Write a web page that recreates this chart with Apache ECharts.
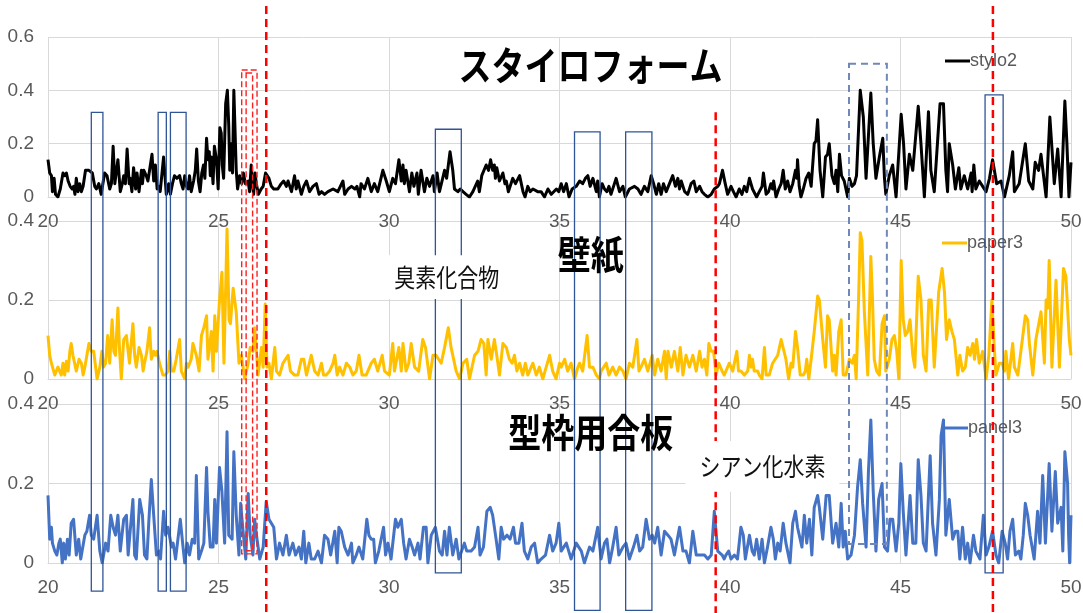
<!DOCTYPE html>
<html>
<head>
<meta charset="utf-8">
<title>stylo2 / paper3 / panel3</title>
<script src="https://cdn.jsdelivr.net/npm/echarts@6/dist/echarts.min.js"></script>
<style>
  html, body { margin: 0; padding: 0; background: #ffffff; }
  #main { width: 1083px; height: 613px; }
</style>
</head>
<body>
<div id="main"></div>
<script>
// ---- series values: [time (min), intensity] ----
const stylo2 = [
[20.00,0.14],[20.05,0.09],[20.10,0.08],[20.13,0.02],[20.18,0.07],[20.22,0.01],[20.29,0.00],[20.36,0.03],[20.44,0.09],[20.49,0.08],[20.54,0.09],[20.59,0.06],[20.65,0.04],[20.71,0.03],[20.75,0.04],[20.79,0.01],[20.83,0.07],[20.88,0.02],[20.93,0.05],[20.98,0.02],[21.03,0.04],[21.10,0.10],[21.20,0.10],[21.30,0.09],[21.37,0.04],[21.42,0.03],[21.49,0.05],[21.56,0.01],[21.66,0.09],[21.73,0.08],[21.81,0.03],[21.86,0.05],[21.91,0.19],[21.96,0.05],[22.05,0.14],[22.12,0.02],[22.18,0.05],[22.22,0.08],[22.27,0.05],[22.32,0.18],[22.38,0.05],[22.41,0.07],[22.46,0.02],[22.51,0.11],[22.57,0.03],[22.61,0.09],[22.67,0.02],[22.74,0.10],[22.77,0.05],[22.81,0.10],[22.88,0.08],[22.93,0.06],[23.05,0.16],[23.10,0.06],[23.15,0.12],[23.20,0.03],[23.25,0.04],[23.29,0.02],[23.39,0.15],[23.47,0.01],[23.54,0.05],[23.59,0.01],[23.65,0.05],[23.71,0.08],[23.78,0.07],[23.86,0.08],[23.91,0.05],[23.96,0.03],[24.01,0.08],[24.06,0.04],[24.11,0.03],[24.15,0.08],[24.20,0.02],[24.27,0.06],[24.32,0.10],[24.36,0.18],[24.41,0.06],[24.46,0.02],[24.51,0.09],[24.56,0.12],[24.60,0.07],[24.65,0.22],[24.69,0.14],[24.73,0.17],[24.76,0.08],[24.79,0.15],[24.84,0.05],[24.88,0.19],[24.94,0.14],[24.99,0.03],[25.04,0.26],[25.08,0.24],[25.11,0.12],[25.15,0.07],[25.21,0.35],[25.26,0.40],[25.30,0.27],[25.33,0.10],[25.37,0.20],[25.41,0.09],[25.45,0.40],[25.52,0.10],[25.56,0.03],[25.62,0.08],[25.68,0.05],[25.73,0.09],[25.79,0.05],[25.87,0.06],[25.91,0.02],[25.96,0.12],[25.99,0.05],[26.03,0.01],[26.07,0.09],[26.11,0.05],[26.17,0.01],[26.25,0.03],[26.31,0.04],[26.38,0.09],[26.48,0.07],[26.55,0.04],[26.62,0.03],[26.74,0.03],[26.84,0.05],[26.91,0.06],[26.99,0.04],[27.04,0.06],[27.14,0.02],[27.23,0.08],[27.28,0.03],[27.33,0.06],[27.43,0.01],[27.50,0.04],[27.58,0.06],[27.67,0.02],[27.77,0.04],[27.87,0.05],[27.95,0.01],[28.02,0.02],[28.11,0.01],[28.21,0.02],[28.36,0.03],[28.50,0.02],[28.65,0.06],[28.70,0.01],[28.80,0.03],[28.90,0.04],[29.00,0.03],[29.06,0.04],[29.14,0.00],
[29.18,0.05],[29.28,0.03],[29.38,0.07],[29.48,0.02],[29.57,0.05],[29.67,0.02],[29.82,0.10],[29.92,0.06],[30.01,0.02],[30.11,0.07],[30.19,0.05],[30.29,0.14],[30.36,0.06],[30.41,0.12],[30.45,0.05],[30.50,0.10],[30.60,0.02],[30.67,0.09],[30.73,0.04],[30.82,0.09],[30.86,0.01],[30.94,0.10],[31.04,0.02],[31.11,0.07],[31.19,0.04],[31.29,0.08],[31.33,0.02],[31.41,0.09],[31.48,0.02],[31.63,0.10],[31.69,0.07],[31.79,0.17],[31.87,0.10],[31.92,0.03],[32.02,0.02],[32.09,0.03],[32.17,0.02],[32.26,0.01],[32.36,0.00],[32.46,0.02],[32.60,0.06],[32.65,0.02],[32.72,0.08],[32.85,0.12],[32.92,0.10],[32.98,0.14],[33.04,0.10],[33.09,0.12],[33.12,0.07],[33.16,0.11],[33.24,0.06],[33.34,0.09],[33.40,0.05],[33.44,0.06],[33.50,0.02],[33.63,0.07],[33.71,0.05],[33.83,0.08],[33.93,0.02],[33.99,0.00],[34.07,0.04],[34.14,0.02],[34.22,0.03],[34.36,0.02],[34.46,0.02],[34.56,0.00],[34.66,0.03],[34.76,0.01],[34.91,0.03],[34.98,0.02],[35.05,0.05],[35.12,0.02],[35.20,0.05],[35.28,0.00],[35.37,0.03],[35.49,0.04],[35.59,0.06],[35.68,0.05],[35.76,0.07],[35.83,0.08],[35.90,0.04],[35.98,0.07],[36.08,0.02],[36.12,0.06],[36.17,0.00],[36.25,0.05],[36.32,0.03],[36.39,0.02],[36.45,0.04],[36.51,0.01],[36.66,0.07],[36.76,0.02],[36.86,0.04],[36.93,0.00],[37.05,0.03],[37.20,0.04],[37.30,0.03],[37.39,0.01],[37.49,0.04],[37.59,0.02],[37.69,0.08],[37.76,0.05],[37.84,0.01],[37.91,0.05],[37.98,0.01],[38.05,0.05],[38.13,0.02],[38.32,0.08],[38.40,0.04],[38.47,0.07],[38.52,0.03],[38.57,0.06],[38.67,0.02],[38.76,0.01],[38.86,0.05],[38.94,0.06],[39.01,0.02],[39.11,0.04],[39.18,0.02],[39.25,0.01],[39.35,0.00],[39.45,0.01],[39.54,0.03],[39.64,0.04],
[39.69,0.05],[39.78,0.10],[39.86,0.05],[39.93,0.01],[40.03,0.04],[40.10,0.02],[40.18,0.00],[40.27,0.03],[40.35,0.01],[40.42,0.04],[40.49,0.02],[40.57,0.07],[40.66,0.03],[40.78,0.00],[40.86,0.02],[40.94,0.04],[40.98,0.09],[41.06,0.01],[41.13,0.02],[41.20,0.05],[41.25,0.03],[41.28,0.06],[41.35,0.00],[41.43,0.03],[41.50,0.05],[41.56,0.10],[41.62,0.03],[41.69,0.06],[41.76,0.02],[41.84,0.05],[41.92,0.10],[41.96,0.07],[41.98,0.14],[42.03,0.04],[42.08,0.00],[42.15,0.03],[42.23,0.07],[42.31,0.09],[42.38,0.04],[42.47,0.20],[42.52,0.21],[42.57,0.29],[42.64,0.10],[42.72,0.00],[42.80,0.15],[42.86,0.16],[42.91,0.20],[42.99,0.08],[43.06,0.05],[43.11,0.10],[43.16,0.02],[43.21,0.16],[43.27,0.08],[43.35,0.06],[43.45,0.00],[43.50,0.07],[43.58,0.04],[43.65,0.05],[43.71,0.08],[43.82,0.40],[43.91,0.30],[43.99,0.07],[44.13,0.39],[44.20,0.20],[44.28,0.07],[44.38,0.15],[44.48,0.22],[44.53,0.07],[44.57,0.01],[44.67,0.08],[44.77,0.12],[44.82,0.06],[44.87,0.00],[45.02,0.31],[45.09,0.20],[45.16,0.03],[45.26,0.16],[45.36,0.10],[45.52,0.34],[45.60,0.20],[45.70,0.00],[45.82,0.32],[45.89,0.10],[45.99,0.02],[46.16,0.35],[46.26,0.35],[46.33,0.10],[46.38,0.02],[46.43,0.20],[46.53,0.12],[46.61,0.03],[46.71,0.11],[46.77,0.03],[46.87,0.08],[46.97,0.03],[47.07,0.09],[47.10,0.02],[47.15,0.12],[47.21,0.03],[47.31,0.06],[47.41,0.04],[47.51,0.02],[47.61,0.07],[47.70,0.14],[47.82,0.05],[47.95,0.06],[48.05,0.00],[48.19,0.08],[48.29,0.17],[48.34,0.02],[48.48,0.05],[48.66,0.20],[48.76,0.06],[48.88,0.03],[48.95,0.13],[49.05,0.10],[49.12,0.16],[49.27,0.00],[49.38,0.30],[49.51,0.05],[49.61,0.18],[49.71,0.00],[49.82,0.36],[49.88,0.20],[49.94,0.00],[50.00,0.13]
];

const paper3 = [
[20.00,0.11],[20.05,0.06],[20.10,0.04],[20.15,0.045],[20.20,0.01],[20.29,0.03],[20.34,0.025],[20.39,0.01],[20.44,0.04],[20.49,0.01],[20.54,0.045],[20.59,0.02],[20.64,0.07],[20.68,0.09],[20.73,0.06],[20.83,0.02],[20.91,0.05],[20.98,0.04],[21.03,0.01],[21.08,0.03],[21.14,0.06],[21.20,0.09],[21.27,0.07],[21.34,0.07],[21.44,0.00],[21.52,0.03],[21.58,0.07],[21.63,0.03],[21.69,0.04],[21.75,0.11],[21.81,0.04],[21.88,0.15],[21.93,0.07],[21.98,0.06],[22.05,0.18],[22.10,0.07],[22.15,0.00],[22.22,0.10],[22.30,0.11],[22.35,0.07],[22.39,0.04],[22.49,0.14],[22.54,0.06],[22.59,0.03],[22.67,0.08],[22.74,0.06],[22.79,0.02],[22.83,0.04],[22.90,0.07],[22.98,0.13],[23.03,0.05],[23.10,0.07],[23.15,0.06],[23.20,0.07],[23.27,0.04],[23.37,0.01],[23.44,0.01],[23.52,0.02],[23.57,0.07],[23.62,0.02],[23.69,0.02],[23.76,0.05],[23.86,0.10],[23.91,0.02],[23.96,0.02],[24.01,0.00],[24.06,0.04],[24.11,0.03],[24.20,0.05],[24.25,0.09],[24.35,0.06],[24.43,0.02],[24.50,0.11],[24.57,0.13],[24.65,0.16],[24.69,0.05],[24.79,0.12],[24.84,0.02],[24.89,0.16],[24.94,0.07],[25.03,0.20],[25.10,0.27],[25.16,0.04],[25.25,0.38],[25.31,0.15],[25.35,0.14],[25.43,0.23],[25.52,0.17],[25.60,0.04],[25.67,0.06],[25.77,0.00],[25.87,0.04],[25.93,0.08],[26.01,0.07],[26.06,0.13],[26.11,0.07],[26.16,0.01],[26.26,0.08],[26.31,0.03],[26.37,0.19],[26.42,0.03],[26.48,0.04],[26.55,0.00],[26.65,0.08],[26.70,0.02],[26.79,0.01],[26.89,0.04],[27.04,0.06],[27.11,0.02],[27.23,0.01],[27.33,0.01],[27.43,0.05],[27.50,0.05],[27.58,0.01],[27.72,0.06],[27.82,0.02],[27.92,0.01],[28.02,0.04],[28.08,0.01],[28.16,0.01],[28.26,0.02],[28.36,0.04],[28.41,0.06],[28.48,0.01],[28.55,0.03],[28.65,0.01],[28.75,0.04],[28.85,0.03],[28.94,0.01],[29.04,0.02],[29.12,0.06],
[29.21,0.01],[29.33,0.01],[29.48,0.04],[29.57,0.05],[29.67,0.02],[29.80,0.06],[29.87,0.02],[30.01,0.01],[30.11,0.09],[30.16,0.02],[30.29,0.08],[30.36,0.02],[30.41,0.09],[30.50,0.02],[30.58,0.04],[30.65,0.09],[30.75,0.03],[30.87,0.02],[30.99,0.10],[31.07,0.08],[31.19,0.00],[31.29,0.06],[31.38,0.06],[31.53,0.04],[31.63,0.08],[31.74,0.13],[31.82,0.08],[31.97,0.02],[32.07,0.00],[32.17,0.04],[32.28,0.05],[32.36,0.00],[32.51,0.06],[32.61,0.07],[32.70,0.10],[32.78,0.09],[32.85,0.01],[32.90,0.10],[33.00,0.05],[33.09,0.10],[33.16,0.06],[33.24,0.01],[33.34,0.09],[33.44,0.08],[33.53,0.05],[33.61,0.04],[33.68,0.06],[33.75,0.02],[33.83,0.04],[33.92,0.01],[34.00,0.04],[34.07,0.01],[34.22,0.04],[34.32,0.01],[34.41,0.03],[34.51,0.00],[34.61,0.03],[34.71,0.06],[34.80,0.02],[34.90,0.00],[35.00,0.04],[35.05,0.03],[35.15,0.05],[35.24,0.02],[35.34,0.04],[35.44,0.00],[35.54,0.03],[35.59,0.04],[35.68,0.02],[35.81,0.11],[35.88,0.03],[35.98,0.03],[36.08,0.01],[36.17,0.00],[36.22,0.02],[36.37,0.04],[36.45,0.01],[36.56,0.03],[36.66,0.01],[36.76,0.03],[36.86,0.02],[36.95,0.00],[37.05,0.04],[37.15,0.03],[37.27,0.10],[37.33,0.02],[37.39,0.03],[37.49,0.05],[37.59,0.02],[37.72,0.06],[37.79,0.01],[37.88,0.05],[37.98,0.02],[38.08,0.07],[38.13,0.00],[38.18,0.07],[38.28,0.03],[38.37,0.07],[38.47,0.02],[38.54,0.08],[38.62,0.01],[38.71,0.06],[38.81,0.03],[38.91,0.06],[39.01,0.02],[39.11,0.07],[39.18,0.03],[39.25,0.05],[39.32,0.01],[39.38,0.09],[39.45,0.07],[39.52,0.07],[39.59,0.01],[39.67,0.04],
[39.77,0.02],[39.83,0.01],[39.93,0.03],[39.98,0.04],[40.08,0.02],[40.20,0.07],[40.25,0.02],[40.32,0.02],[40.42,0.01],[40.52,0.02],[40.57,0.06],[40.62,0.03],[40.66,0.05],[40.71,0.02],[40.81,0.02],[40.86,0.01],[40.94,0.00],[41.01,0.08],[41.06,0.01],[41.15,0.01],[41.25,0.04],[41.30,0.04],[41.40,0.06],[41.50,0.10],[41.54,0.10],[41.64,0.05],[41.72,0.00],[41.79,0.04],[41.84,0.03],[41.92,0.12],[41.98,0.08],[42.06,0.01],[42.15,0.01],[42.21,0.02],[42.25,0.05],[42.31,0.00],[42.38,0.05],[42.47,0.12],[42.57,0.21],[42.62,0.20],[42.72,0.10],[42.80,0.03],[42.86,0.16],[42.91,0.15],[43.01,0.02],[43.06,0.06],[43.11,0.01],[43.19,0.12],[43.26,0.15],[43.32,0.01],[43.40,0.01],[43.50,0.05],[43.58,0.04],[43.65,0.06],[43.70,0.00],[43.77,0.20],[43.82,0.37],[43.87,0.35],[43.94,0.17],[43.99,0.17],[44.04,0.01],[44.13,0.31],[44.18,0.20],[44.23,0.05],[44.30,0.02],[44.38,0.01],[44.46,0.14],[44.53,0.16],[44.57,0.02],[44.67,0.05],[44.75,0.10],[44.82,0.11],[44.89,0.07],[44.95,0.00],[45.02,0.30],[45.08,0.15],[45.14,0.11],[45.21,0.12],[45.28,0.15],[45.36,0.06],[45.42,0.03],[45.52,0.26],[45.60,0.20],[45.67,0.06],[45.75,0.02],[45.83,0.20],[45.90,0.20],[45.99,0.03],[46.12,0.22],[46.22,0.28],[46.29,0.22],[46.35,0.10],[46.43,0.15],[46.51,0.12],[46.58,0.10],[46.68,0.01],[46.74,0.06],[46.82,0.02],[46.90,0.03],[46.97,0.08],[47.04,0.06],[47.12,0.09],[47.17,0.05],[47.23,0.10],[47.31,0.04],[47.41,0.07],[47.51,0.00],[47.59,0.06],[47.68,0.20],[47.75,0.08],[47.80,0.01],[47.90,0.04],[47.98,0.04],[48.05,0.02],[48.09,0.07],[48.17,0.00],[48.29,0.09],[48.34,0.03],[48.44,0.01],[48.53,0.07],[48.58,0.07],[48.66,0.16],[48.73,0.15],[48.78,0.09],[48.88,0.01],[48.97,0.10],[49.12,0.17],[49.22,0.04],[49.27,0.20],[49.32,0.18],[49.36,0.30],[49.44,0.03],[49.56,0.25],[49.66,0.03],[49.78,0.28],[49.85,0.26],[49.95,0.10],[50.00,0.06]
];

const panel3 = [
[20.00,0.17],[20.05,0.06],[20.10,0.09],[20.13,0.05],[20.20,0.03],[20.26,0.02],[20.32,0.05],[20.36,0.06],[20.42,0.00],[20.46,0.05],[20.51,0.01],[20.57,0.06],[20.62,0.02],[20.68,0.10],[20.75,0.11],[20.83,0.02],[20.90,0.06],[20.96,0.01],[21.08,0.07],[21.14,0.08],[21.22,0.12],[21.27,0.07],[21.34,0.06],[21.44,0.12],[21.52,0.03],[21.59,0.00],[21.69,0.05],[21.76,0.03],[21.84,0.12],[21.91,0.09],[21.98,0.07],[22.05,0.12],[22.12,0.03],[22.22,0.11],[22.30,0.12],[22.35,0.02],[22.41,0.08],[22.49,0.16],[22.54,0.02],[22.59,0.01],[22.69,0.16],[22.77,0.12],[22.83,0.02],[22.90,0.01],[22.96,0.11],[23.03,0.21],[23.10,0.12],[23.18,0.02],[23.26,0.03],[23.30,0.01],[23.39,0.13],[23.45,0.07],[23.52,0.09],[23.62,0.04],[23.67,0.05],[23.74,0.01],[23.81,0.06],[23.88,0.11],[23.96,0.04],[24.01,0.00],[24.08,0.05],[24.15,0.02],[24.23,0.06],[24.30,0.05],[24.35,0.22],[24.42,0.01],[24.50,0.03],[24.57,0.05],[24.65,0.24],[24.69,0.13],[24.76,0.04],[24.84,0.04],[24.89,0.16],[24.94,0.05],[25.03,0.24],[25.10,0.18],[25.18,0.05],[25.25,0.33],[25.30,0.07],[25.40,0.06],[25.45,0.28],[25.52,0.12],[25.60,0.02],[25.65,0.15],[25.72,0.08],[25.80,0.01],[25.87,0.175],[25.93,0.07],[26.01,0.02],[26.06,0.11],[26.13,0.06],[26.21,0.01],[26.31,0.04],[26.40,0.155],[26.48,0.11],[26.55,0.10],[26.62,0.09],[26.70,0.01],[26.79,0.05],[26.89,0.02],[26.99,0.07],[27.07,0.02],[27.18,0.05],[27.26,0.02],[27.36,0.04],[27.43,0.01],[27.50,0.08],[27.56,0.00],[27.65,0.05],[27.72,0.01],[27.82,0.01],[27.92,0.03],[28.02,0.00],[28.11,0.07],[28.21,0.06],[28.29,0.02],[28.41,0.08],[28.48,0.00],[28.53,0.09],[28.60,0.08],[28.70,0.04],[28.80,0.02],[28.90,0.05],[28.94,0.00],[29.04,0.02],[29.12,0.04],
[29.23,0.01],[29.35,0.11],[29.41,0.07],[29.48,0.06],[29.55,0.06],[29.60,0.00],[29.70,0.03],[29.84,0.09],[29.90,0.02],[29.97,0.05],[30.06,0.01],[30.19,0.11],[30.26,0.09],[30.36,0.11],[30.43,0.05],[30.50,0.01],[30.60,0.06],[30.68,0.04],[30.75,0.02],[30.85,0.05],[30.91,0.01],[31.01,0.09],[31.09,0.09],[31.14,0.00],[31.24,0.07],[31.36,0.09],[31.48,0.03],[31.56,0.02],[31.63,0.08],[31.70,0.02],[31.77,0.09],[31.87,0.02],[31.97,0.06],[32.05,0.01],[32.21,0.05],[32.28,0.03],[32.41,0.03],[32.51,0.04],[32.61,0.09],[32.67,0.02],[32.77,0.04],[32.87,0.13],[32.97,0.14],[33.04,0.12],[33.14,0.06],[33.22,0.01],[33.29,0.09],[33.36,0.06],[33.46,0.07],[33.55,0.06],[33.65,0.09],[33.71,0.05],[33.81,0.05],[33.90,0.10],[33.97,0.03],[34.07,0.01],[34.17,0.04],[34.27,0.05],[34.36,0.00],[34.46,0.01],[34.59,0.02],[34.71,0.07],[34.80,0.03],[34.90,0.05],[34.98,0.10],[35.05,0.03],[35.20,0.05],[35.34,0.01],[35.49,0.05],[35.64,0.03],[35.73,0.00],[35.88,0.04],[35.98,0.03],[36.12,0.09],[36.22,0.01],[36.32,0.05],[36.39,0.06],[36.47,0.00],[36.56,0.04],[36.66,0.09],[36.74,0.02],[36.86,0.04],[36.95,0.05],[37.05,0.01],[37.17,0.04],[37.27,0.07],[37.35,0.03],[37.44,0.04],[37.54,0.11],[37.64,0.06],[37.72,0.07],[37.79,0.05],[37.88,0.09],[37.98,0.02],[38.08,0.08],[38.18,0.07],[38.27,0.06],[38.37,0.02],[38.52,0.09],[38.62,0.03],[38.71,0.03],[38.81,0.00],[38.91,0.08],[39.01,0.02],[39.13,0.02],[39.25,0.02],[39.35,0.01],[39.45,0.02],[39.54,0.13],[39.64,0.03],
[39.77,0.02],[39.83,0.01],[39.88,0.02],[39.96,0.03],[40.03,0.01],[40.13,0.02],[40.22,0.01],[40.32,0.09],[40.39,0.07],[40.45,0.01],[40.57,0.07],[40.65,0.03],[40.71,0.02],[40.78,0.06],[40.86,0.01],[40.94,0.06],[41.01,0.00],[41.10,0.04],[41.20,0.09],[41.27,0.06],[41.33,0.01],[41.40,0.05],[41.47,0.03],[41.56,0.10],[41.64,0.05],[41.76,0.00],[41.84,0.10],[41.92,0.13],[41.98,0.09],[42.03,0.09],[42.11,0.04],[42.18,0.12],[42.25,0.05],[42.33,0.11],[42.40,0.02],[42.47,0.14],[42.57,0.17],[42.62,0.14],[42.72,0.06],[42.82,0.17],[42.91,0.17],[43.01,0.05],[43.11,0.10],[43.19,0.04],[43.26,0.15],[43.32,0.04],[43.38,0.08],[43.45,0.01],[43.55,0.02],[43.65,0.07],[43.74,0.19],[43.82,0.26],[43.89,0.15],[43.99,0.04],[44.06,0.23],[44.13,0.36],[44.20,0.18],[44.28,0.03],[44.36,0.16],[44.46,0.20],[44.53,0.04],[44.62,0.03],[44.69,0.11],[44.77,0.11],[44.87,0.03],[44.95,0.10],[45.01,0.25],[45.08,0.13],[45.16,0.02],[45.28,0.17],[45.36,0.05],[45.45,0.05],[45.52,0.26],[45.60,0.17],[45.67,0.05],[45.75,0.03],[45.87,0.27],[45.94,0.10],[46.04,0.02],[46.14,0.16],[46.19,0.32],[46.26,0.36],[46.33,0.07],[46.43,0.16],[46.53,0.06],[46.61,0.08],[46.68,0.08],[46.74,0.01],[46.82,0.09],[46.90,0.01],[46.97,0.05],[47.04,0.00],[47.14,0.07],[47.21,0.03],[47.33,0.01],[47.43,0.12],[47.51,0.02],[47.59,0.04],[47.70,0.08],[47.80,0.02],[47.88,0.00],[47.98,0.08],[48.07,0.05],[48.14,0.01],[48.21,0.08],[48.29,0.11],[48.37,0.02],[48.47,0.03],[48.53,0.01],[48.60,0.07],[48.66,0.15],[48.73,0.12],[48.80,0.07],[48.92,0.01],[49.02,0.13],[49.09,0.05],[49.17,0.22],[49.25,0.05],[49.36,0.25],[49.44,0.08],[49.54,0.23],[49.61,0.10],[49.71,0.14],[49.76,0.03],[49.82,0.28],[49.90,0.20],[49.93,0.07],[49.96,0.00],[50.00,0.12]
];

const seriesNames = ['stylo2', 'paper3', 'panel3'];
const panelTitles = ['スタイロフォーム', '壁紙', '型枠用合板'];
const calloutTexts = ['臭素化合物', 'シアン化水素'];
const xTicks = [20, 25, 30, 35, 40, 45, 50];
const yMax = [0.6, 0.4, 0.4];

// ---- layout / styling ----
const LABEL_FONT = '"Liberation Sans Narrow", "Arial Narrow", sans-serif';
const CJK_FONT = '"Noto Sans CJK JP", "Noto Sans CJK SC", sans-serif';
const GRID_COLOR = '#d9d9d9';
const TEXT_COLOR = '#595959';
const lineColors = ['#000000', '#ffc000', '#4472c4'];
const lineWidths = [3, 3, 3];
const grids = [
  { left: 48, right: 12, top: 37, height: 160 },
  { left: 48, right: 12, top: 221, height: 158 },
  { left: 48, right: 12, top: 404, height: 159 }
];
const legendPos = [
  { left: 945, top: 52 },
  { left: 942, top: 234 },
  { left: 943, top: 419 }
];

const chart = echarts.init(document.getElementById('main'), null, { renderer: 'canvas' });

const option = {
  animation: false,
  backgroundColor: '#ffffff',
  grid: grids.map(g => Object.assign({ outerBoundsMode: 'none', containLabel: false }, g)),
  xAxis: grids.map((g, i) => ({
    type: 'value',
    gridIndex: i,
    min: xTicks[0],
    max: xTicks[xTicks.length - 1],
    interval: xTicks[1] - xTicks[0],
    axisLine: { show: true, onZero: false, lineStyle: { color: GRID_COLOR, width: 1 } },
    axisTick: { show: false },
    splitLine: { show: true, lineStyle: { color: GRID_COLOR, width: 1 } },
    axisLabel: { margin: 15, color: TEXT_COLOR, fontFamily: LABEL_FONT, fontSize: 19 }
  })),
  yAxis: grids.map((g, i) => ({
    type: 'value',
    gridIndex: i,
    min: 0,
    max: yMax[i],
    interval: 0.2,
    axisLine: { show: false },
    axisTick: { show: false },
    splitLine: { show: true, lineStyle: { color: GRID_COLOR, width: 1 } },
    axisLabel: {
      margin: 14, color: TEXT_COLOR, fontFamily: LABEL_FONT, fontSize: 19,
      formatter: v => (v === 0 ? '0' : v.toFixed(1))
    }
  })),
  legend: seriesNames.map((name, i) => ({
    data: [name],
    left: legendPos[i].left,
    top: legendPos[i].top,
    icon: 'rect',
    itemWidth: 25,
    itemHeight: 3,
    itemGap: 0,
    selectedMode: false,
    padding: 0,
    textStyle: { color: TEXT_COLOR, fontFamily: LABEL_FONT, fontSize: 18, padding: [0, 0, 0, -5] }
  })),
  series: [stylo2, paper3, panel3].map((data, i) => ({
    name: seriesNames[i],
    type: 'line',
    xAxisIndex: i,
    yAxisIndex: i,
    data: data,
    showSymbol: false,
    symbol: 'none',
    clip: true,
    z: 3,
    lineStyle: { color: lineColors[i], width: lineWidths[i], join: 'round' },
    itemStyle: { color: lineColors[i] }
  }))
};

chart.setOption(option);

// ---- annotations, placed in axis units (time, panel value) ----
const px = t => chart.convertToPixel({ xAxisIndex: 0 }, t);
const py = (panel, v) => chart.convertToPixel({ yAxisIndex: panel }, v);

const solidBoxes = [
  { t: [21.27, 21.61], top: [0, 0.317], bottom: [2, -0.071] },
  { t: [23.23, 23.47], top: [0, 0.317], bottom: [2, -0.071] },
  { t: [23.59, 24.05], top: [0, 0.317], bottom: [2, -0.071] },
  { t: [31.36, 32.12], top: [0, 0.254], bottom: [2, -0.025] },
  { t: [35.44, 36.19], top: [0, 0.244], bottom: [2, -0.119] },
  { t: [36.94, 37.71], top: [0, 0.244], bottom: [2, -0.119] },
  { t: [47.48, 48.01], top: [0, 0.383], bottom: [2, -0.025] }
];
const dashedBox = { t: [43.49, 44.60], top: [0, 0.50], bottom: [2, 0.048] };
const redFrames = [
  { t: [25.68, 26.13], top: [0, 0.476], bottom: [2, 0.023] },
  { t: [25.81, 26.00], top: [0, 0.465], bottom: [2, 0.031] }
];
const redMarkers = [
  { t: 26.40, top: [0, 0.716], bottom: [2, -0.14] },
  { t: 47.71, top: [0, 0.716], bottom: [2, -0.14] },
  { t: 39.58, top: [0, 0.318], bottom: [2, -0.14] }
];
const titlePos = [
  { t: 35.91, at: [0, 0.493] },
  { t: 35.92, at: [1, 0.317] },
  { t: 35.92, at: [2, 0.328] }
];
const calloutPos = [
  { t: 31.69, at: [1, 0.258], padding: [8, 10] },
  { t: 40.95, at: [2, 0.243], padding: [11, 14] }
];

function boxShape(b) {
  const x0 = px(b.t[0]), x1 = px(b.t[1]);
  const y0 = py(b.top[0], b.top[1]), y1 = py(b.bottom[0], b.bottom[1]);
  return { x: x0, y: y0, width: x1 - x0, height: y1 - y0 };
}

const graphics = [];
solidBoxes.forEach(b => graphics.push({
  type: 'rect', z: 20, silent: true, shape: boxShape(b),
  style: { fill: 'none', stroke: '#2f5597', lineWidth: 1.3 }
}));
graphics.push({
  type: 'rect', z: 20, silent: true, shape: boxShape(dashedBox),
  style: { fill: 'none', stroke: '#7088b8', lineWidth: 2, lineDash: [7, 5] }
});
redFrames.forEach(b => graphics.push({
  type: 'rect', z: 21, silent: true, shape: boxShape(b),
  style: { fill: 'none', stroke: '#ff2020', lineWidth: 1.4, lineDash: [6, 3] }
}));
redMarkers.forEach(m => {
  const x = px(m.t);
  graphics.push({
    type: 'line', z: 22, silent: true,
    shape: { x1: x, y1: py(m.top[0], m.top[1]), x2: x, y2: py(m.bottom[0], m.bottom[1]) },
    style: { stroke: '#ff0000', lineWidth: 2.5, lineDash: [8, 5] }
  });
});
calloutTexts.forEach((txt, i) => {
  const p = calloutPos[i];
  graphics.push({
    type: 'text', z: 30, silent: true,
    x: px(p.t), y: py(p.at[0], p.at[1]), scaleY: 1.18,
    style: {
      text: txt, align: 'center', verticalAlign: 'middle',
      font: '21px ' + CJK_FONT, fill: '#111111',
      backgroundColor: '#ffffff', padding: p.padding
    }
  });
});
panelTitles.forEach((txt, i) => {
  const p = titlePos[i];
  graphics.push({
    type: 'text', z: 31, silent: true,
    x: px(p.t), y: py(p.at[0], p.at[1]), scaleY: 1.18,
    style: {
      text: txt, align: 'center', verticalAlign: 'middle',
      font: 'bold 33px ' + CJK_FONT, fill: '#000000'
    }
  });
});

chart.setOption({ graphic: { elements: graphics } });
</script>
</body>
</html>
